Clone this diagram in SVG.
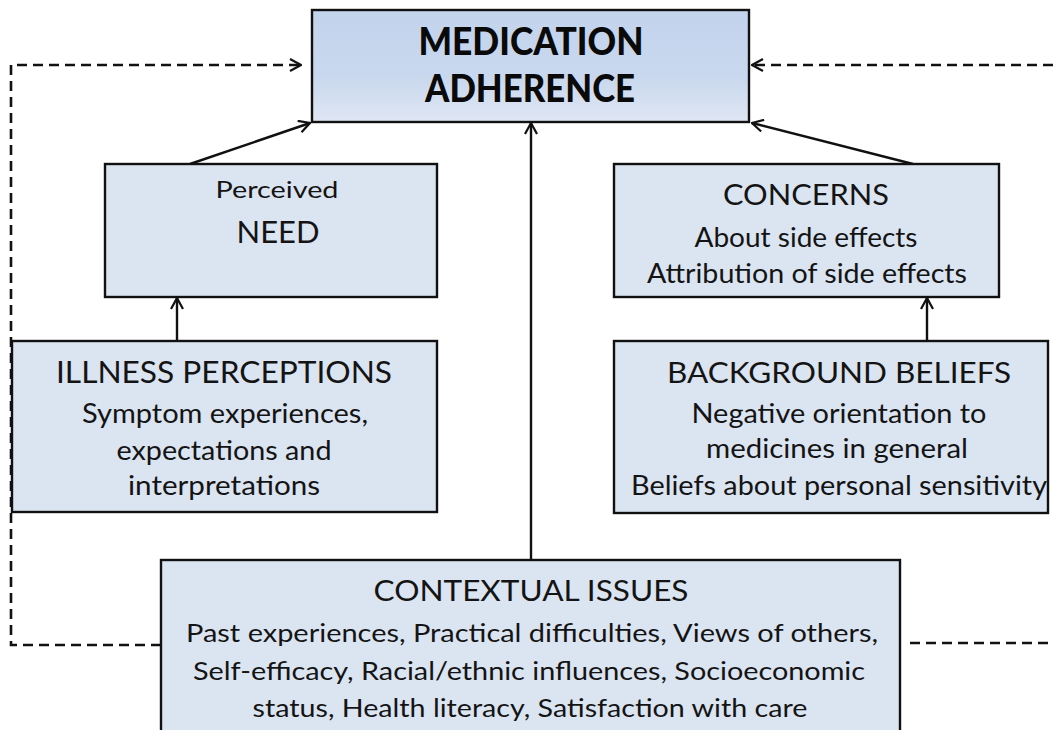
<svg xmlns="http://www.w3.org/2000/svg" width="1053" height="730" viewBox="0 0 1053 730">
  <style>
    .box { fill: #dbe4f1; stroke: #111; stroke-width: 2.4; }
    .txt { font-family: Lato, "Liberation Sans", sans-serif; fill: #141414; text-anchor: middle; }
    .bold { font-weight: 900; fill: #0a0a0a; }
    .solid { fill: none; stroke: #111; stroke-width: 2.4; }
    .dash { fill: none; stroke: #111; stroke-width: 2.6; stroke-dasharray: 10 6; }
  </style>
  <defs>
    <linearGradient id="topFill" x1="0" y1="0" x2="0" y2="1">
      <stop offset="0" stop-color="#c2d3ec"/>
      <stop offset="0.6" stop-color="#c9d8ee"/>
      <stop offset="1" stop-color="#dfe6f3"/>
    </linearGradient>
    <marker id="open" viewBox="0 0 14 14" refX="13" refY="7" markerWidth="14" markerHeight="14" markerUnits="userSpaceOnUse" orient="auto">
      <path d="M2,1 L13,7 L2,13" fill="none" stroke="#111" stroke-width="2.2"/>
    </marker>
  </defs>

  <rect width="1053" height="730" fill="#ffffff"/>

  <!-- connectors -->
  <g id="connectors">
    <!-- feedback loops (dashed) -->
    <polyline class="dash" points="161,645 11,645 11,65 301,65" marker-end="url(#open)"/>
    <polyline class="dash" points="1053,65 752,65" marker-end="url(#open)"/>
    <line class="dash" x1="910" y1="643" x2="1053" y2="643"/>
    <!-- direct influences -->
    <line class="solid" x1="190" y1="164" x2="310" y2="123" marker-end="url(#open)"/>
    <line class="solid" x1="913" y1="164" x2="752" y2="123" marker-end="url(#open)"/>
    <line class="solid" x1="531" y1="560" x2="531" y2="123" marker-end="url(#open)"/>
    <line class="solid" x1="177" y1="341" x2="177" y2="298" marker-end="url(#open)"/>
    <line class="solid" x1="927" y1="341" x2="927" y2="298" marker-end="url(#open)"/>
  </g>

  <g id="adherence">
    <rect x="312" y="10" width="437" height="112" fill="url(#topFill)" stroke="#111" stroke-width="2.4"/>
    <text class="txt bold" x="531" y="55" font-size="38" textLength="225" lengthAdjust="spacingAndGlyphs">MEDICATION</text>
    <text class="txt bold" x="530" y="102" font-size="38" textLength="210" lengthAdjust="spacingAndGlyphs">ADHERENCE</text>
  </g>

  <g id="need">
    <rect class="box" x="105" y="164" width="332" height="133"/>
    <text class="txt" x="277" y="198" font-size="24" textLength="123" lengthAdjust="spacingAndGlyphs">Perceived</text>
    <text class="txt" x="278" y="243" font-size="30" textLength="83" lengthAdjust="spacingAndGlyphs">NEED</text>
  </g>

  <g id="concerns">
    <rect class="box" x="614" y="164" width="385" height="133"/>
    <text class="txt" x="806" y="205" font-size="29" textLength="166" lengthAdjust="spacingAndGlyphs">CONCERNS</text>
    <text class="txt" x="806" y="247" font-size="27" textLength="223" lengthAdjust="spacingAndGlyphs">About side effects</text>
    <text class="txt" x="807" y="283" font-size="27" textLength="320" lengthAdjust="spacingAndGlyphs">Attribution of side effects</text>
  </g>

  <g id="illness">
    <rect class="box" x="12" y="341" width="425" height="171"/>
    <text class="txt" x="224" y="383" font-size="30" textLength="336" lengthAdjust="spacingAndGlyphs">ILLNESS  PERCEPTIONS</text>
    <text class="txt" x="225" y="423" font-size="27" textLength="286" lengthAdjust="spacingAndGlyphs">Symptom experiences,</text>
    <text class="txt" x="224" y="460" font-size="27" textLength="215" lengthAdjust="spacingAndGlyphs">expectations and</text>
    <text class="txt" x="224" y="495" font-size="27" textLength="192" lengthAdjust="spacingAndGlyphs">interpretations</text>
  </g>

  <g id="background">
    <rect class="box" x="614" y="341" width="434" height="172"/>
    <text class="txt" x="839" y="383" font-size="29" textLength="344" lengthAdjust="spacingAndGlyphs">BACKGROUND BELIEFS</text>
    <text class="txt" x="839" y="423" font-size="27" textLength="295" lengthAdjust="spacingAndGlyphs">Negative orientation to</text>
    <text class="txt" x="837" y="458" font-size="27" textLength="262" lengthAdjust="spacingAndGlyphs">medicines in general</text>
    <text class="txt" x="839" y="495" font-size="27" textLength="416" lengthAdjust="spacingAndGlyphs">Beliefs about personal sensitivity</text>
  </g>

  <g id="contextual">
    <rect class="box" x="161" y="560" width="739" height="185"/>
    <text class="txt" x="531" y="601" font-size="29" textLength="315" lengthAdjust="spacingAndGlyphs">CONTEXTUAL ISSUES</text>
    <text class="txt" x="532" y="642" font-size="25" textLength="692" lengthAdjust="spacingAndGlyphs">Past experiences, Practical difficulties, Views of others,</text>
    <text class="txt" x="529" y="680" font-size="25" textLength="672" lengthAdjust="spacingAndGlyphs">Self-efficacy, Racial/ethnic influences, Socioeconomic</text>
    <text class="txt" x="530" y="717" font-size="25" textLength="555" lengthAdjust="spacingAndGlyphs">status, Health literacy, Satisfaction with care</text>
  </g>
</svg>
